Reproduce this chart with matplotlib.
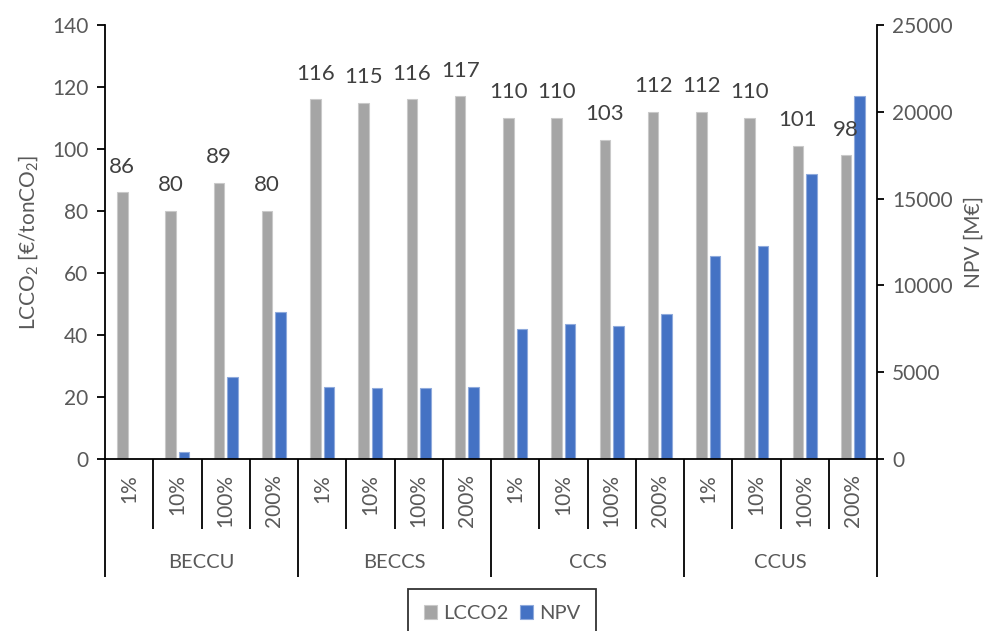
import matplotlib
matplotlib.use("Agg")
import matplotlib.pyplot as plt
import matplotlib.transforms as mtransforms
import numpy as np

plt.rcParams["font.family"] = ["Lato", "DejaVu Sans"]
plt.rcParams["mathtext.fontset"] = "custom"
plt.rcParams["mathtext.rm"] = "Lato"

# Scenario data
groups = ["BECCU", "BECCS", "CCS", "CCUS"]
shares = ["1%", "10%", "100%", "200%"]
lcco2 = [86, 80, 89, 80, 116, 115, 116, 117, 110, 110, 103, 112, 112, 110, 101, 98]
npv = [0, 420, 4700, 8470, 4130, 4070, 4110, 4165,
       7510, 7760, 7660, 8330, 11670, 12250, 16430, 20930]

GRAY = "#A5A5A5"
BLUE = "#4472C4"
TXT = "#595959"

fig = plt.figure(figsize=(9.98, 6.31), dpi=100)
ax = fig.add_axes([105 / 998, 1 - 459 / 631, (877 - 105) / 998, (459 - 25) / 631])
ax2 = ax.twinx()

n = len(lcco2)
x = np.arange(n)
w = 0.22
off = 0.14

ax.bar(x - off, lcco2, width=w, color=GRAY, edgecolor="#C9C9C9", linewidth=0.8, label="LCCO2")
ax2.bar(x + off, npv, width=w, color=BLUE, edgecolor="#8FAADC", linewidth=0.8, label="NPV")

ax.set_zorder(ax2.get_zorder() + 1)
ax.patch.set_visible(False)

for xi, v in zip(x, lcco2):
    ax.annotate(f"{v:.0f}", xy=(xi - off, v), xytext=(0, 18.5), textcoords="offset points",
                ha="center", va="center", fontsize=16, color="#404040")

ax.set_xlim(-0.5, n - 0.5)
ax.set_ylim(0, 140)
ax.set_yticks(np.arange(0, 141, 20))
ax2.set_ylim(0, 25000)
ax2.set_yticks(np.arange(0, 25001, 5000))

for a in (ax, ax2):
    a.spines["top"].set_visible(False)
    for s in a.spines.values():
        s.set_color("black")
        s.set_linewidth(1.3)
ax.spines["right"].set_visible(False)
ax2.spines["left"].set_visible(False)
ax2.spines["bottom"].set_visible(False)

ax.tick_params(axis="y", direction="out", length=6, width=1.3, color="black",
               labelsize=15, labelcolor=TXT, pad=6)
ax2.tick_params(axis="y", direction="out", length=5, width=1.3, color="black",
                labelsize=15, labelcolor=TXT, pad=6)
ax.set_xticks([])

ax.set_ylabel(r"LCCO$_\mathregular{2}$ [€/tonCO$_\mathregular{2}$]", fontsize=15, color=TXT, labelpad=8)
ax2.set_ylabel("NPV [M€]", fontsize=15, color=TXT, labelpad=8)

# Two-level category axis drawn below the plot
trans = mtransforms.blended_transform_factory(ax.transData, ax.transAxes)
h_inner = (529 - 459) / 434
h_outer = (577 - 459) / 434
for b in np.arange(-0.5, n, 1.0):
    is_group = (b + 0.5) % len(shares) == 0
    ax.plot([b, b], [0, -(h_outer if is_group else h_inner)], color="black",
            lw=1.3, transform=trans, clip_on=False, solid_capstyle="butt")

for i in range(n):
    ax.text(i, -15 / 434, shares[i % len(shares)], rotation=90, ha="center", va="top",
            fontsize=15, color=TXT, transform=trans)
for g, name in enumerate(groups):
    ax.text(g * len(shares) + 1.5, -(562 - 459) / 434, name, ha="center", va="center",
            fontsize=14.5, color=TXT, transform=trans)

h1, l1 = ax.get_legend_handles_labels()
h2, l2 = ax2.get_legend_handles_labels()
leg = fig.legend(h1 + h2, l1 + l2, loc="upper center", bbox_to_anchor=(502 / 998, 1 - 589 / 631),
                 ncol=2, frameon=True, fancybox=False, fontsize=14.5, handlelength=0.65,
                 handleheight=0.65, handletextpad=0.3, columnspacing=0.55, borderpad=0.8,
                 borderaxespad=0.0, labelcolor=TXT)
leg.get_frame().set_edgecolor("black")
leg.get_frame().set_linewidth(1.3)

fig.savefig("out.png", dpi=100)
